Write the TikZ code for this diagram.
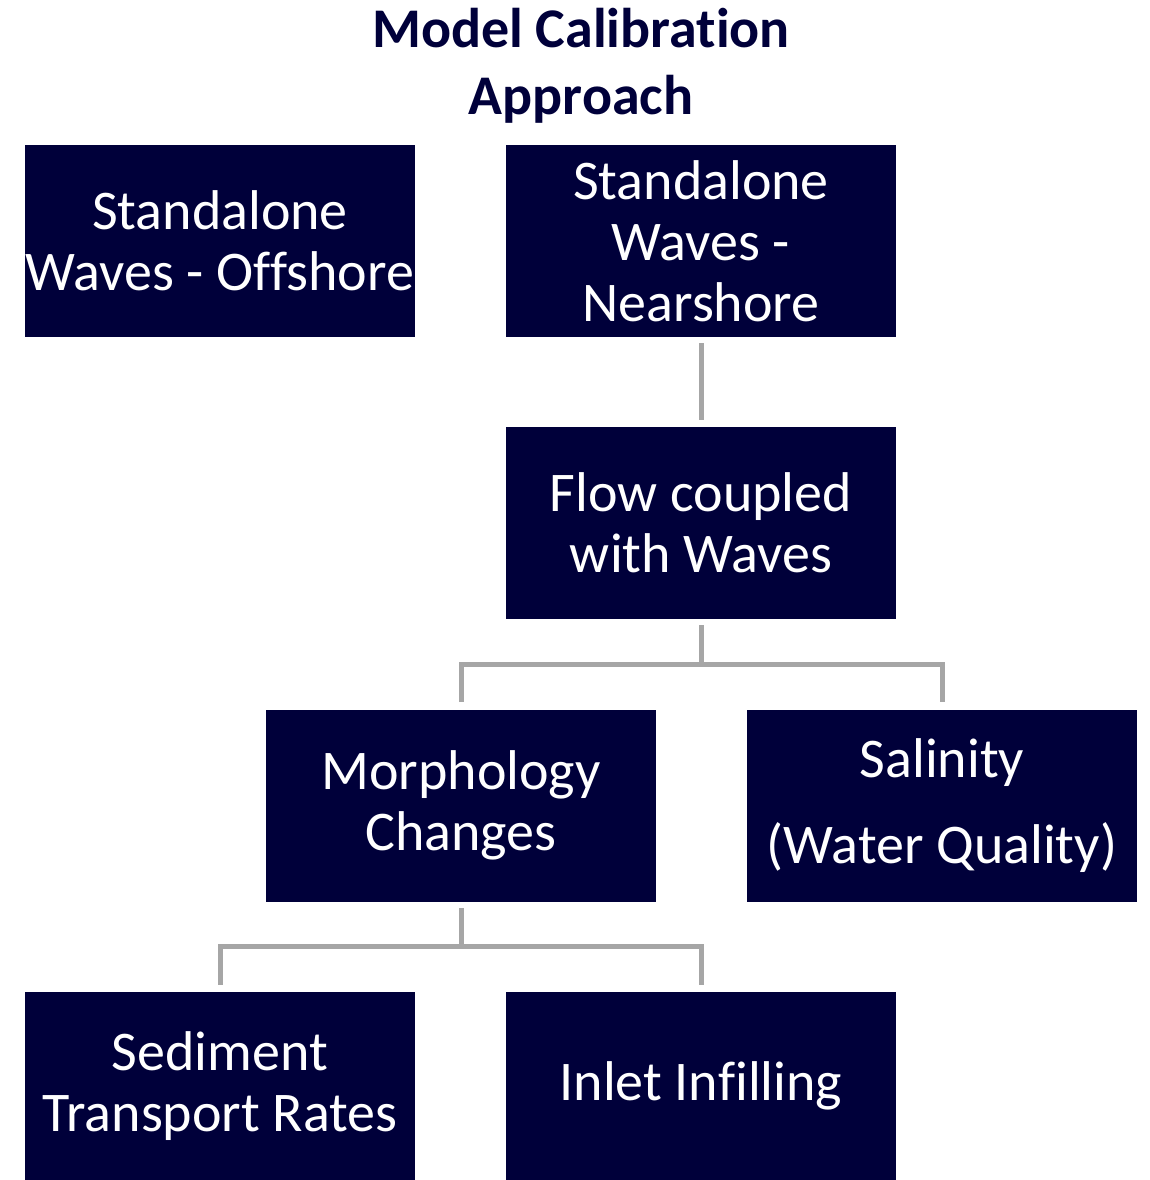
\documentclass[tikz,border=0pt]{standalone}
\usepackage{fontspec}
\setmainfont{Carlito}[Ligatures=NoCommon]
\usetikzlibrary{calc}
\definecolor{navy}{HTML}{00003A}
\definecolor{conngray}{HTML}{A6A6A6}
\begin{document}
\begin{tikzpicture}[x=0.5pt,y=-0.5pt,
  box/.style={fill=navy,draw=none,inner sep=0pt,minimum width=195pt,minimum height=96pt,
    text=white,align=center,font=\fontsize{28pt}{30.5pt}\selectfont},
  conn/.style={draw=conngray,line width=2.5pt}]
\useasboundingbox (0,0) rectangle (1150,1180);
\node[text=navy,align=center,font=\fontsize{28pt}{33.5pt}\selectfont\bfseries] (title) at (581,66) {Model Calibration\\Approach};
\node[box] (off) at (220,241) {Standalone\\Waves - Offshore};
\node[box] (near) at (701,241) {Standalone\\Waves -\\Nearshore};
\node[box] (flow) at (701,523) {Flow coupled\\with Waves};
\node[box] (morph) at (461,805.5) {Morphology\\Changes};
\node[box] (sal) at (942,805.5) {Salinity\\[12.5pt](Water Quality)};
\node[box,minimum height=94pt] (sed) at (220,1086) {Sediment\\Transport Rates};
\node[box,minimum height=94pt] (inlet) at (701,1086) {Inlet Infilling};
\coordinate (bus1) at (0,664);
\coordinate (bus2) at (0,946);
\draw[conn] ([yshift=-3pt]near.south) -- ([yshift=3.5pt]flow.north);
\draw[conn] ([yshift=-3pt]flow.south) -- (flow.south |- bus1);
\draw[conn] ([yshift=3.5pt]morph.north) -- (morph.north |- bus1) -- (sal.north |- bus1) -- ([yshift=3.5pt]sal.north);
\draw[conn] ([yshift=-3pt]morph.south) -- (morph.south |- bus2);
\draw[conn] ([yshift=3.5pt]sed.north) -- (sed.north |- bus2) -- (inlet.north |- bus2) -- ([yshift=3.5pt]inlet.north);
\end{tikzpicture}
\end{document}
